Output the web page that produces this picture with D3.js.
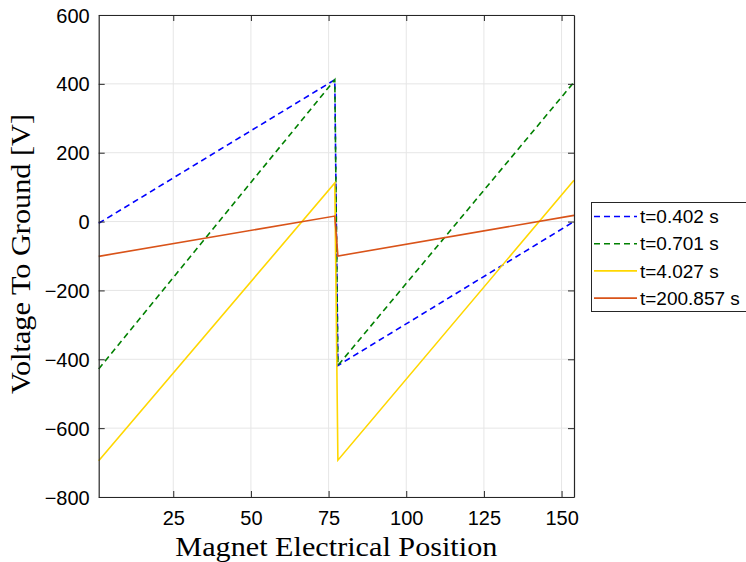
<!DOCTYPE html>
<html>
<head>
<meta charset="utf-8">
<script src="https://cdn.jsdelivr.net/npm/d3@7"></script>
<style>
  html, body { margin: 0; padding: 0; background: #fff; }
  svg { display: block; }
</style>
</head>
<body>
<svg id="chart" width="746" height="562"></svg>
<script>
// ---- data ----
const positions = [1, 77, 78, 154];
const seriesNames = ["t=0.402 s", "t=0.701 s", "t=4.027 s", "t=200.857 s"];
const v_0402 = [-5, 412, -418, 0];
const v_0701 = [-428, 412, -418, 405];
const v_4027 = [-695, 112, -693, 120];
const v_200857 = [-101, 16, -100, 18];
const xTicks = [25, 50, 75, 100, 125, 150];
const yTicks = [-800, -600, -400, -200, 0, 200, 400, 600];

const seriesValues = [v_0402, v_0701, v_4027, v_200857];
const colors = ["#0000ff", "#008000", "#ffd700", "#d95319"];
const dashes = ["6,4", "6,4", null, null];

const svg = d3.select("#chart");
const L = 98.7, R = 574, T = 15, B = 497;

const x = d3.scaleLinear().domain([1, 154]).range([L, R]);
const y = d3.scaleLinear().domain([-800, 600]).range([B, T]);

// grid
const grid = svg.append("g");
grid.selectAll(".gx").data(xTicks).enter().append("line")
  .attr("x1", d => x(d)).attr("x2", d => x(d)).attr("y1", T).attr("y2", B)
  .attr("stroke", "#e6e6e6").attr("stroke-width", 1);
grid.selectAll(".gy").data(yTicks).enter().append("line")
  .attr("x1", L).attr("x2", R).attr("y1", d => y(d)).attr("y2", d => y(d))
  .attr("stroke", "#e6e6e6").attr("stroke-width", 1);

// lines
const line = d3.line().x(d => x(d[0])).y(d => y(d[1]));
seriesValues.forEach((vals, i) => {
  const pts = positions.map((p, j) => [p, vals[j]]);
  const path = svg.append("path").datum(pts)
    .attr("d", line).attr("fill", "none")
    .attr("stroke", colors[i]).attr("stroke-width", 1.6);
  if (dashes[i]) path.attr("stroke-dasharray", dashes[i]);
});

// axes
const axisColor = "#262626";
const tickFont = "Liberation Sans, Arial, sans-serif";
const xAxis = d3.axisBottom(x).tickValues(xTicks).tickSizeInner(-6).tickSizeOuter(0).tickPadding(14);
const gx = svg.append("g").attr("transform", `translate(0,${B})`).call(xAxis);
const yAxis = d3.axisLeft(y).tickValues(yTicks).tickSizeInner(-6).tickSizeOuter(0).tickPadding(9);
const gy = svg.append("g").attr("transform", `translate(${L},0)`).call(yAxis);
const xAxisTop = d3.axisTop(x).tickValues(xTicks).tickSizeInner(-6).tickSizeOuter(0).tickFormat("");
const gxt = svg.append("g").attr("transform", `translate(0,${T})`).call(xAxisTop);
const yAxisR = d3.axisRight(y).tickValues(yTicks).tickSizeInner(-6).tickSizeOuter(0).tickFormat("");
const gyr = svg.append("g").attr("transform", `translate(${R},0)`).call(yAxisR);
[gx, gy, gxt, gyr].forEach(g => {
  g.select(".domain").attr("stroke", axisColor).attr("stroke-width", 1.2);
  g.selectAll(".tick line").attr("stroke", axisColor).attr("stroke-width", 1);
  g.selectAll(".tick text").attr("fill", "#000").style("font-family", tickFont).style("font-size", "20px");
});
gy.selectAll(".tick text").attr("dy", "0.35em");

// axis labels
const serif = "Liberation Serif, 'DejaVu Serif', serif";
svg.append("text").attr("x", (L + R) / 2).attr("y", 556)
  .attr("text-anchor", "middle").style("font-family", serif).style("font-size", "27px")
  .attr("textLength", 322).attr("lengthAdjust", "spacingAndGlyphs")
  .text("Magnet Electrical Position");
svg.append("text").attr("transform", `translate(30,254) rotate(-90)`)
  .attr("text-anchor", "middle").style("font-family", serif).style("font-size", "27px")
  .attr("textLength", 280).attr("lengthAdjust", "spacingAndGlyphs")
  .text("Voltage To Ground [V]");

// legend
const lg = svg.append("g");
lg.append("rect").attr("x", 591.5).attr("y", 202.5).attr("width", 160).attr("height", 109)
  .attr("fill", "#fff").attr("stroke", axisColor).attr("stroke-width", 1);
seriesNames.forEach((name, i) => {
  const yy = 216.5 + i * 27.2;
  const ln = lg.append("line").attr("x1", 594).attr("x2", 637).attr("y1", yy).attr("y2", yy)
    .attr("stroke", colors[i]).attr("stroke-width", 1.6);
  if (dashes[i]) ln.attr("stroke-dasharray", dashes[i]);
  lg.append("text").attr("x", 640).attr("y", yy).attr("dy", "0.35em")
    .style("font-family", tickFont).style("font-size", "19px").text(name);
});
</script>
</body>
</html>
